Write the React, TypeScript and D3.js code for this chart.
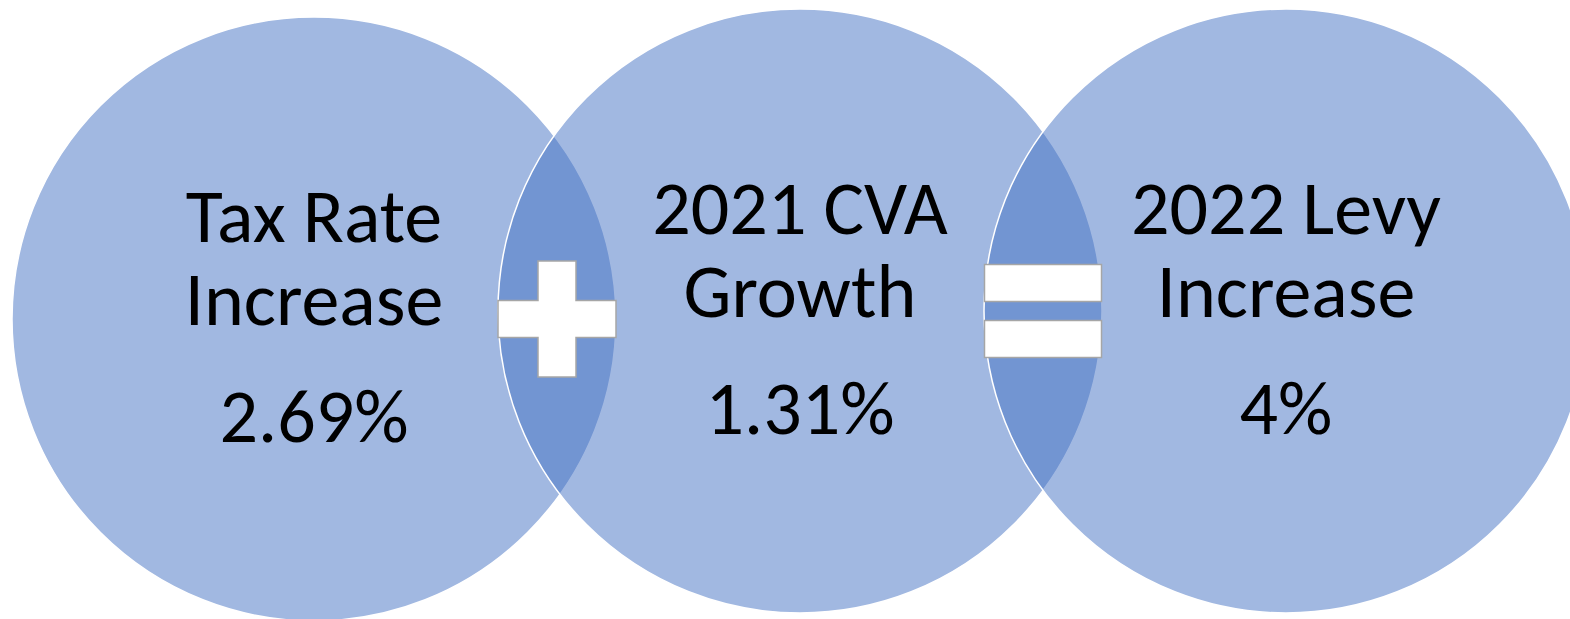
import { useEffect, useRef } from 'react'
import * as d3 from 'd3'

// terms of the equation, left to right
const labels = [
  ['Tax Rate', 'Increase'],
  ['2021 CVA', 'Growth'],
  ['2022 Levy', 'Increase'],
]
const values = [2.69, 1.31, 4]
const operators = ['+', '=']

const WIDTH = 1570
const HEIGHT = 619

export default function App() {
  const svgRef = useRef<SVGSVGElement>(null)

  useEffect(() => {
    if (!svgRef.current) return
    const svg = d3.select(svgRef.current)
    svg.selectAll('*').remove()

    const radius = 302
    const x = d3.scalePoint<number>()
      .domain(d3.range(labels.length))
      .range([314, 1286])
    // first circle sits a little lower than the other two
    const cy = (i: number) => (i === 0 ? 319 : 311)

    const fmt = (v: number) => `${d3.format('~r')(v)}%`

    // circles, semi-transparent so overlaps get darker
    svg.append('g')
      .selectAll('circle')
      .data(values)
      .join('circle')
      .attr('cx', (_, i) => x(i)!)
      .attr('cy', (_, i) => cy(i))
      .attr('r', radius)
      .attr('fill', '#4472c4')
      .attr('fill-opacity', 0.5)
      .attr('stroke', '#ffffff')
      .attr('stroke-width', 1.5)

    // text in each circle
    const text = svg.append('g')
      .attr('font-family', "Carlito, Calibri, 'Open Sans', sans-serif")
      .attr('font-size', 76)
      .attr('fill', '#000')
      .attr('text-anchor', 'middle')

    labels.forEach((lines, i) => {
      const base = cy(i) - 77
      lines.forEach((line, j) => {
        text.append('text')
          .attr('x', x(i)!)
          .attr('y', base + j * 83)
          .text(line)
      })
      text.append('text')
        .attr('x', x(i)!)
        .attr('y', base + 200)
        .text(fmt(values[i]))
    })

    // operator shapes in the overlaps
    const ops = svg.append('g')
      .attr('fill', '#ffffff')
      .attr('stroke', '#a6a6a6')
      .attr('stroke-width', 1.5)

    operators.forEach((op, k) => {
      const mx = (x(k)! + x(k + 1)!) / 2
      const my = (cy(k) + cy(k + 1)) / 2 + 4
      if (op === '+') {
        const w = 118, t = 37, h = 116, tv = 38
        const path = d3.path()
        path.moveTo(mx - tv / 2, my - h / 2)
        path.lineTo(mx + tv / 2, my - h / 2)
        path.lineTo(mx + tv / 2, my - t / 2)
        path.lineTo(mx + w / 2, my - t / 2)
        path.lineTo(mx + w / 2, my + t / 2)
        path.lineTo(mx + tv / 2, my + t / 2)
        path.lineTo(mx + tv / 2, my + h / 2)
        path.lineTo(mx - tv / 2, my + h / 2)
        path.lineTo(mx - tv / 2, my + t / 2)
        path.lineTo(mx - w / 2, my + t / 2)
        path.lineTo(mx - w / 2, my - t / 2)
        path.lineTo(mx - tv / 2, my - t / 2)
        path.closePath()
        ops.append('path').attr('d', path.toString())
      } else {
        const w = 117, t = 37, gap = 19
        const ey = my - 4
        ops.append('rect')
          .attr('x', mx - w / 2).attr('y', ey - gap / 2 - t)
          .attr('width', w).attr('height', t)
        ops.append('rect')
          .attr('x', mx - w / 2).attr('y', ey + gap / 2)
          .attr('width', w).attr('height', t)
      }
    })
  }, [])

  return (
    <svg
      ref={svgRef}
      width={WIDTH}
      height={HEIGHT}
      style={{ position: 'absolute', left: 0, top: 0, background: '#fff' }}
    />
  )
}
